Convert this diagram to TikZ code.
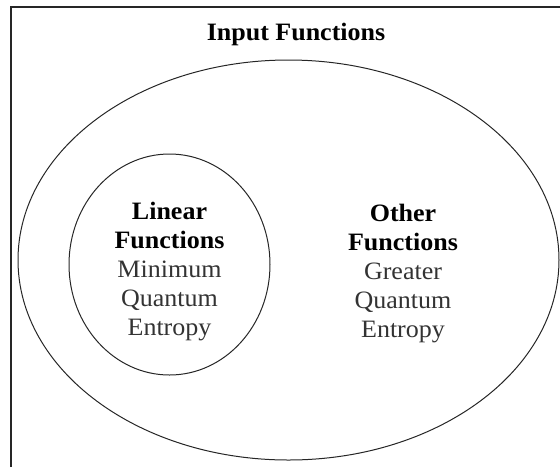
\documentclass[tikz,border=0pt]{standalone}
\usepackage{fontspec}
\setmainfont[FakeStretch=1.04]{Liberation Serif}
\usetikzlibrary{shapes.geometric}
\definecolor{linegray}{gray}{0.15}
\definecolor{textgray}{gray}{0.2}
\tikzset{
  setshape/.style={draw=linegray, line width=1pt, ellipse, inner sep=0pt},
  labeltext/.style={align=center, inner sep=0pt, anchor=base, text=textgray,
    font=\fontsize{25}{29}\selectfont},
  titletext/.style={inner sep=0pt, anchor=base, text=black,
    font=\fontsize{25}{29}\selectfont\bfseries},
  frameline/.style={draw=black!85, line width=1.3pt}
}
\begin{document}
\begin{tikzpicture}[x=1pt, y=-1pt]
\useasboundingbox (0,0) rectangle (560,467);
\coordinate (fbl) at (11,467);
\coordinate (ftl) at (11,7);
\coordinate (ftr) at (560,7);
\draw[frameline] (fbl) -- (ftl) -- (ftr);
\node[setshape, minimum width=541pt, minimum height=400pt] (input) at (288.5,260) {};
\node[setshape, minimum width=201pt, minimum height=221pt] (linear) at (169.5,264.5) {};
\node[titletext] (inputlabel) at (296,40) {Input Functions};
\node[labeltext] (linearlabel) at (169.5,335) {\textbf{\textcolor{black}{Linear}}\\\textbf{\textcolor{black}{Functions}}\\Minimum\\Quantum\\Entropy};
\node[labeltext] (otherlabel) at (403,337) {\textbf{\textcolor{black}{Other}}\\\textbf{\textcolor{black}{Functions}}\\Greater\\Quantum\\Entropy};
\end{tikzpicture}
\end{document}
